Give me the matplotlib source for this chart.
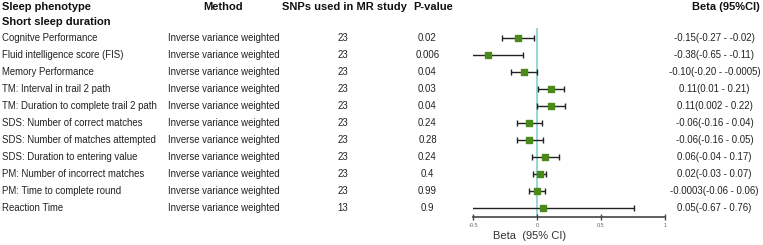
import matplotlib
matplotlib.use("Agg")
import matplotlib.pyplot as plt
from matplotlib import transforms

plt.rcParams['font.family'] = ['Liberation Sans', 'DejaVu Sans']

# ---- data ----
phenotypes = ["Cognitve Performance", "Fluid intelligence score (FIS)",
              "Memory Performance", "TM: Interval in trail 2 path",
              "TM: Duration to complete trail 2 path",
              "SDS: Number of correct matches",
              "SDS: Number of matches attempted",
              "SDS: Duration to entering value",
              "PM: Number of incorrect matches",
              "PM: Time to complete round", "Reaction Time"]
method = "Inverse variance weighted"
snps = [23, 23, 23, 23, 23, 23, 23, 23, 23, 23, 13]
pvals = ["0.02", "0.006", "0.04", "0.03", "0.04", "0.24", "0.28", "0.24",
         "0.4", "0.99", "0.9"]
beta = [-0.15, -0.38, -0.10, 0.11, 0.11, -0.06, -0.06, 0.06, 0.02, -0.0003, 0.05]
lower = [-0.27, -0.65, -0.20, 0.01, 0.002, -0.16, -0.16, -0.04, -0.03, -0.06, -0.67]
upper = [-0.02, -0.11, -0.0005, 0.21, 0.22, 0.04, 0.05, 0.17, 0.07, 0.06, 0.76]
beta_txt = ["-0.15(-0.27 - -0.02)", "-0.38(-0.65 - -0.11)",
            "-0.10(-0.20 - -0.0005)", "0.11(0.01 - 0.21)",
            "0.11(0.002 - 0.22)", "-0.06(-0.16 - 0.04)",
            "-0.06(-0.16 - 0.05)", "0.06(-0.04 - 0.17)",
            "0.02(-0.03 - 0.07)", "-0.0003(-0.06 - 0.06)",
            "0.05(-0.67 - 0.76)"]
xticks = [-0.5, 0, 0.5, 1]

W, H = 763, 245
fig = plt.figure(figsize=(W / 100, H / 100), dpi=100)

# forest axes in pixel geometry
x0, x1 = 473, 665
y_top, y_bot = 28, 217
ax = fig.add_axes([x0 / W, 1 - y_bot / H, (x1 - x0) / W, (y_bot - y_top) / H])
row0, step = 38.3, 16.94
rows = list(range(len(phenotypes)))
ax.set_xlim(-0.5, 1)
ax.set_ylim((y_bot - row0) / step, (y_top - row0) / step)

ax.axvline(0, color="#8fd3d0", lw=1.3, zorder=1)
err = [[b - l for b, l in zip(beta, lower)], [u - b for b, u in zip(beta, upper)]]
ax.errorbar(beta, rows, xerr=err, fmt="none", ecolor="#222222", elinewidth=1,
            capsize=2, capthick=1, zorder=2)
ax.scatter(beta, rows, marker="s", s=22, color="#4b8a1a", zorder=3)

for s in ["top", "left", "right"]:
    ax.spines[s].set_visible(False)
ax.spines["bottom"].set_color("#444444")
ax.spines["bottom"].set_linewidth(1.2)
ax.set_yticks([])
ax.set_xticks(xticks)
ax.set_xticklabels(["-0.5", "0", "0.5", "1"])
ax.tick_params(axis="x", direction="inout", length=5, width=1, color="#444444",
               labelsize=4, labelcolor="#666666", pad=2)
ax.set_xlabel("Beta  (95% CI)", fontsize=8, color="#333333")
ax.xaxis.set_label_coords((530 - x0) / (x1 - x0), -0.075)

# table text: x in figure pixels, y in row units
tr = transforms.blended_transform_factory(fig.transFigure, ax.transData)
fs = 6.9
hdr = dict(fontsize=8.0, fontweight="bold", va="center", transform=tr, color="#111111")
ax.text(2 / W, -1.85, "Sleep phenotype", ha="left", **hdr)
ax.text(223 / W, -1.85, "Method", ha="center", **hdr)
ax.text(282 / W, -1.85, "SNPs used in MR study", ha="left", **hdr)
ax.text(413 / W, -1.85, "P-value", ha="left", **hdr)
ax.text(726 / W, -1.85, "Beta (95%CI)", ha="center", **hdr)
ax.text(2 / W, -0.94, "Short sleep duration", ha="left", **hdr)

txt = dict(fontsize=fs, va="center", transform=tr, color="#222222")
for i in rows:
    ax.text(2 / W, i, phenotypes[i], ha="left", **txt)
    ax.text(168 / W, i, method, ha="left", **txt)
    ax.text(343 / W, i, str(snps[i]), ha="center", **txt)
    ax.text(427.5 / W, i, pvals[i], ha="center", **txt)
    ax.text(714.5 / W, i, beta_txt[i], ha="center", **txt)

fig.savefig("out.png", dpi=100)
